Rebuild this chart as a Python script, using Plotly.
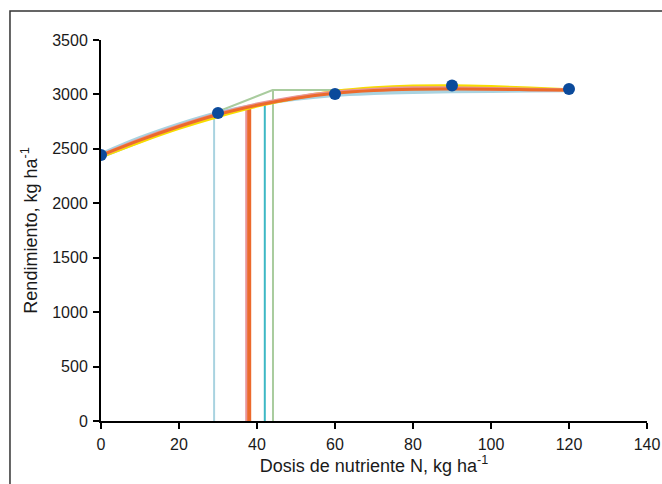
import plotly.graph_objects as go

# Observed data
dose_obs = [0, 30, 60, 90, 120]
yield_obs = [2444, 2829, 3004, 3082, 3050]

# Fitted curves
x_curve = [0, 10, 20, 30, 40, 50, 60, 70, 80, 90, 100, 110, 120]
y_yellow = [2430, 2565, 2690, 2800, 2895, 2970, 3025, 3058, 3075, 3078, 3070, 3056, 3040]
y_pink = [2440, 2585, 2710, 2820, 2910, 2975, 3020, 3046, 3058, 3058, 3052, 3046, 3040]
y_orange = [2440, 2580, 2705, 2815, 2900, 2965, 3010, 3036, 3048, 3050, 3048, 3044, 3040]
y_blue = [2452, 2602, 2727, 2832, 2905, 2958, 2993, 3010, 3020, 3026, 3030, 3033, 3035]
x_green = [0, 44, 120]
y_green = [2420, 3040, 3040]

# Optimal doses (vertical markers) and their heights
opt_dose = {"blue": 29.0, "pink": 37.3, "orange": 38.0, "teal": 42.0, "green": 44.1}
opt_yield = {"blue": 2832, "pink": 2885, "orange": 2880, "teal": 2905, "green": 3040}

colors = {
    "yellow": "#F7DC00",
    "pink": "#E8959A",
    "orange": "#EC6A2C",
    "blue": "#A9D3E0",
    "teal": "#3DB8C4",
    "green": "#A9CC9E",
}
vwidths = {"blue": 2, "pink": 2.5, "orange": 4, "teal": 2, "green": 2}

fig = go.Figure()

for k in ["blue", "green", "teal", "pink", "orange"]:
    fig.add_trace(go.Scatter(x=[opt_dose[k], opt_dose[k]], y=[0, opt_yield[k]], mode="lines",
                             line=dict(color=colors[k], width=vwidths[k]), hoverinfo="skip"))

fig.add_trace(go.Scatter(x=x_green, y=y_green, mode="lines",
                         line=dict(color=colors["green"], width=2)))
fig.add_trace(go.Scatter(x=x_curve, y=y_blue, mode="lines", line_shape="spline",
                         line=dict(color=colors["blue"], width=3.5)))
fig.add_trace(go.Scatter(x=x_curve, y=y_yellow, mode="lines", line_shape="spline",
                         line=dict(color=colors["yellow"], width=3.5)))
fig.add_trace(go.Scatter(x=x_curve, y=y_pink, mode="lines", line_shape="spline",
                         line=dict(color=colors["pink"], width=3.5)))
fig.add_trace(go.Scatter(x=x_curve, y=y_orange, mode="lines", line_shape="spline",
                         line=dict(color=colors["orange"], width=3)))

fig.add_trace(go.Scatter(x=dose_obs, y=yield_obs, mode="markers",
                         marker=dict(color="#0B4A9B", size=12)))

font_family = "Liberation Sans, Arial, sans-serif"
fig.update_layout(
    width=662, height=484,
    margin=dict(l=101, r=15, t=40, b=63),
    plot_bgcolor="white", paper_bgcolor="white",
    showlegend=False,
    font=dict(family=font_family, size=16, color="#1a1a1a"),
    xaxis=dict(range=[0, 140], tickvals=[0, 20, 40, 60, 80, 100, 120, 140], automargin=False,
               showgrid=False, zeroline=False, showline=True, linecolor="black", linewidth=2,
               ticks="outside", ticklen=6, tickwidth=2, tickcolor="black",
               tickfont=dict(size=16), ticklabelstandoff=2,
               title=dict(text="Dosis de nutriente N, kg ha<sup>-1</sup>", font=dict(size=18), standoff=6)),
    yaxis=dict(range=[0, 3500], tickvals=[0, 500, 1000, 1500, 2000, 2500, 3000, 3500], automargin=False,
               showgrid=False, zeroline=False, showline=True, linecolor="black", linewidth=2,
               ticks="outside", ticklen=6, tickwidth=2, tickcolor="black",
               tickfont=dict(size=16), ticklabelstandoff=2,
               title=dict(text="Rendimiento, kg ha<sup>-1</sup>", font=dict(size=18), standoff=10)),
    shapes=[dict(type="rect", xref="paper", yref="paper",
                 x0=-0.1667, x1=1.2, y0=-0.4, y1=1.076,
                 line=dict(color="#333333", width=1.5), fillcolor="rgba(0,0,0,0)")],
)

fig.write_html("out.html")
